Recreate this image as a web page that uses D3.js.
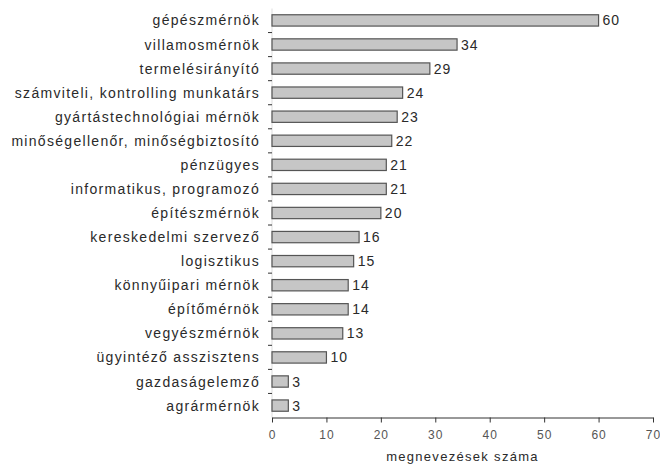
<!DOCTYPE html>
<html><head><meta charset="utf-8">
<script src="https://cdn.jsdelivr.net/npm/d3@7"></script>
<style>body{margin:0;background:#fff}svg{display:block}text{font-family:"Liberation Sans",Arial,sans-serif}</style>
</head><body><svg id="c" width="660" height="464"></svg>
<script>
const categories = ["gépészmérnök","villamosmérnök","termelésirányító","számviteli, kontrolling munkatárs","gyártástechnológiai mérnök","minőségellenőr, minőségbiztosító","pénzügyes","informatikus, programozó","építészmérnök","kereskedelmi szervező","logisztikus","könnyűipari mérnök","építőmérnök","vegyészmérnök","ügyintéző asszisztens","gazdaságelemző","agrármérnök"];
const values = [60,34,29,24,23,22,21,21,20,16,15,14,14,13,10,3,3];
const xTicks = [0,10,20,30,40,50,60,70];
const xTitle = "megnevezések száma";

const svg = d3.select("#c");
const mLeft = 272, mRight = 653, mTop = 8.5, mBottom = 417.5;
const x = d3.scaleLinear().domain([0,70]).range([mLeft,mRight]);
const y = d3.scaleBand().domain(categories).range([mTop,mBottom]).paddingInner(0.53).paddingOuter(0.26);
const txt = "#2a2a2a";

// y axis line (light)
svg.append("line").attr("x1",mLeft).attr("x2",mLeft).attr("y1",mTop).attr("y2",mBottom).attr("stroke","#ddd");
// y boundary ticks
const step = (mBottom-mTop)/categories.length;
d3.range(1,categories.length).forEach(i=>{
  svg.append("line").attr("x1",mLeft-4).attr("x2",mLeft).attr("y1",mTop+i*step).attr("y2",mTop+i*step).attr("stroke","#333").attr("stroke-width",1);
});

// bars
svg.selectAll("rect.bar").data(values).join("rect").attr("class","bar")
  .attr("x",mLeft).attr("y",(d,i)=>y(categories[i]))
  .attr("width",d=>x(d)-mLeft).attr("height",y.bandwidth())
  .attr("fill","#c6c6c6").attr("stroke","#555").attr("stroke-width",1.2);

// category labels
svg.selectAll("text.cat").data(categories).join("text").attr("class","cat")
  .attr("x",260).attr("y",d=>y(d)+y.bandwidth()/2).attr("dy","0.36em")
  .attr("text-anchor","end").attr("font-size",14).attr("letter-spacing",1.3).attr("fill",txt).text(d=>d);

// value labels
svg.selectAll("text.val").data(values).join("text").attr("class","val")
  .attr("x",d=>x(d)+4).attr("y",(d,i)=>y(categories[i])+y.bandwidth()/2).attr("dy","0.36em")
  .attr("font-size",14).attr("letter-spacing",1).attr("fill",txt).text(d=>d);

// x axis
const ax = svg.append("g").attr("transform",`translate(0,${mBottom})`)
  .call(d3.axisBottom(x).tickValues(xTicks).tickSize(5).tickSizeOuter(0).tickPadding(8));
ax.select(".domain").attr("stroke","#333");
ax.selectAll(".tick line").attr("stroke","#333");
ax.selectAll(".tick text").attr("font-size",12).attr("fill","#555").attr("letter-spacing",1)
  .attr("font-family","\"Liberation Sans\",Arial,sans-serif");

svg.append("text").attr("x",(mLeft+mRight)/2).attr("y",461).attr("text-anchor","middle")
  .attr("font-size",13).attr("letter-spacing",1.3).attr("fill",txt).text(xTitle);
</script></body></html>
